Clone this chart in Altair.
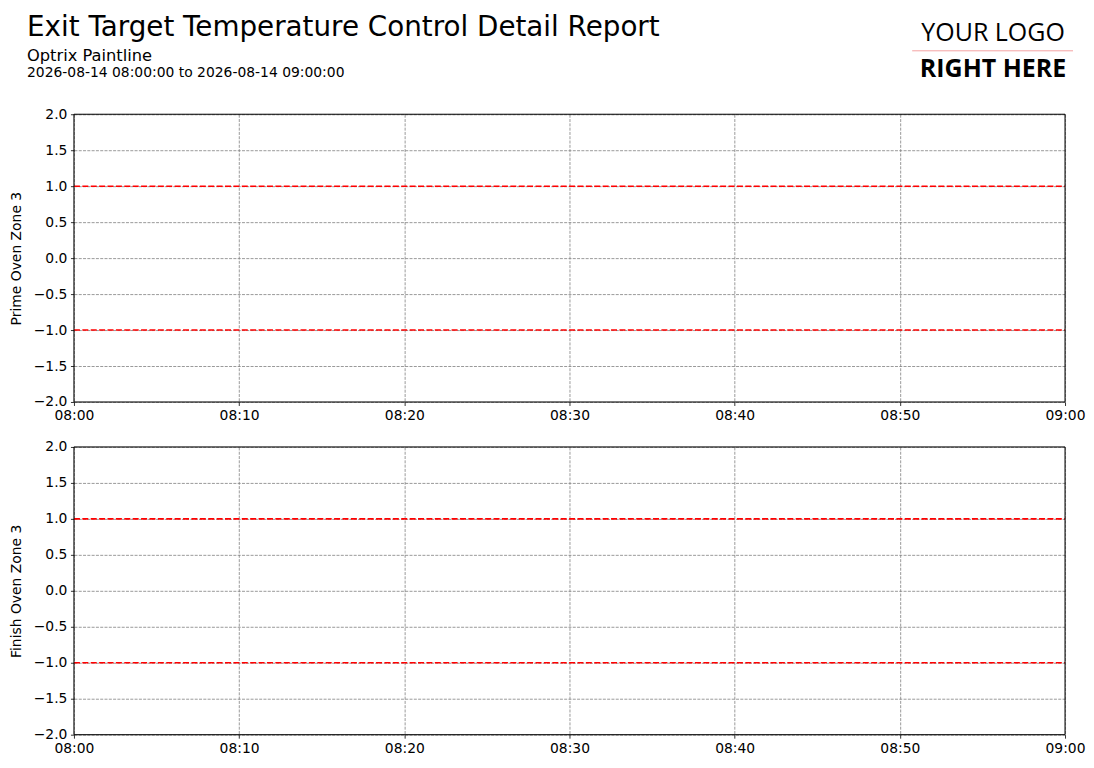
import altair as alt
import pandas as pd

# ---- data ----
title_text = ["Exit Target Temperature Control Detail Report"]
subtitle_text = ["Optrix Paintline"]
range_text = ["2026-08-14 08:00:00 to 2026-08-14 09:00:00"]
logo_top = ["YOUR LOGO"]
logo_bottom = ["RIGHT HERE"]
panel_names = ["Prime Oven Zone 3", "Finish Oven Zone 3"]
limit_values = [1.0, -1.0]
time_start = "2026-08-14T08:00:00"
time_end = "2026-08-14T09:00:00"
tick_minutes = [0, 10, 20, 30, 40, 50, 60]
y_ticks = [-2.0, -1.5, -1.0, -0.5, 0.0, 0.5, 1.0, 1.5, 2.0]
y_domain = [-2.0, 2.0]

FONT = "DejaVu Sans"
W, H = 992, 288


def dt(m):
    return alt.DateTime(year=2026, month=8, date=14, hours=8 + m // 60, minutes=m % 60)


one = pd.DataFrame({"k": [0]})


def header_layers():
    layers = []
    layers.append(alt.Chart(one).mark_rect(opacity=0).encode(
        x=alt.value(-65), x2=alt.value(-60), y=alt.value(-105), y2=alt.value(-100)))
    layers.append(alt.Chart(one).mark_text(align="left", baseline="alphabetic", fontSize=27.8,
                                           font=FONT, color="black").encode(
        x=alt.value(-47), y=alt.value(-78), text=alt.value(title_text[0])))
    layers.append(alt.Chart(one).mark_text(align="left", baseline="alphabetic", fontSize=16.3,
                                           font=FONT, color="black").encode(
        x=alt.value(-47), y=alt.value(-53), text=alt.value(subtitle_text[0])))
    layers.append(alt.Chart(one).mark_text(align="left", baseline="alphabetic", fontSize=13.9,
                                           font=FONT, color="black").encode(
        x=alt.value(-47), y=alt.value(-37.5), text=alt.value(range_text[0])))
    layers.append(alt.Chart(one).mark_text(align="center", baseline="alphabetic", fontSize=25,
                                           font="Open Sans", color="black").encode(
        x=alt.value(920), y=alt.value(-73), text=alt.value(logo_top[0])))
    layers.append(alt.Chart(one).mark_text(align="center", baseline="alphabetic", fontSize=25,
                                           font="Open Sans", fontWeight="bold", color="black").encode(
        x=alt.value(920), y=alt.value(-37), text=alt.value(logo_bottom[0])))
    layers.append(alt.Chart(one).mark_rule(color="#f4a3a3", strokeWidth=1).encode(
        x=alt.value(839), x2=alt.value(1000), y=alt.value(-63.5)))
    return layers


def panel(name, with_header):
    df = pd.DataFrame({
        "t0": [time_start] * len(limit_values),
        "t1": [time_end] * len(limit_values),
        "limit": limit_values,
    })
    rules = alt.Chart(df).mark_rule(color="red", strokeWidth=1.6, strokeDash=[6, 2.4]).encode(
        x=alt.X("t0:T",
                scale=alt.Scale(domain=[dt(0), dt(60)], nice=False),
                axis=alt.Axis(title=None, values=[dt(m) for m in tick_minutes], format="%H:%M",
                              grid=True, gridColor="#808080", gridDash=[3, 1.3], gridWidth=0.8,
                              domain=False, ticks=True, tickSize=3.5, tickWidth=0.8, tickColor="black",
                              labelPadding=3.5, labelFontSize=13.9, labelFont=FONT, labelColor="black",
                              labelFlush=False, labelOverlap=False)),
        x2="t1:T",
        y=alt.Y("limit:Q",
                scale=alt.Scale(domain=y_domain, nice=False, zero=False),
                axis=alt.Axis(title=name, values=y_ticks, format=".1f",
                              grid=True, gridColor="#808080", gridDash=[3, 1.3], gridWidth=0.8,
                              domain=False, ticks=True, tickSize=3.5, tickWidth=0.8, tickColor="black",
                              labelPadding=3.5, labelFontSize=13.9, labelFont=FONT, labelColor="black",
                              labelOverlap=False, labelFlush=False,
                              titleX=-53, titleY=H / 2, titleAngle=270, titleAlign="center",
                              titleBaseline="alphabetic", titleFontSize=13.9, titleFont=FONT,
                              titleFontWeight="normal", titleColor="black")),
    )
    frame = alt.Chart(one).mark_rect(fillOpacity=0, stroke="black", strokeWidth=1).encode(
        x=alt.value(0), x2=alt.value(W), y=alt.value(0), y2=alt.value(H))
    layers = [rules, frame]
    if with_header:
        layers += header_layers()
    return alt.layer(*layers).properties(width=W, height=H)


chart = alt.vconcat(
    panel(panel_names[0], True),
    panel(panel_names[1], False),
    spacing=45,
    bounds="flush",
).properties(
    padding={"left": 0, "top": 0, "right": 0, "bottom": 0}
).configure_view(
    stroke="black", strokeWidth=1
).configure(
    font=FONT, background="white"
)

chart.save("out.html", embed_options={"renderer": "svg", "actions": False})
